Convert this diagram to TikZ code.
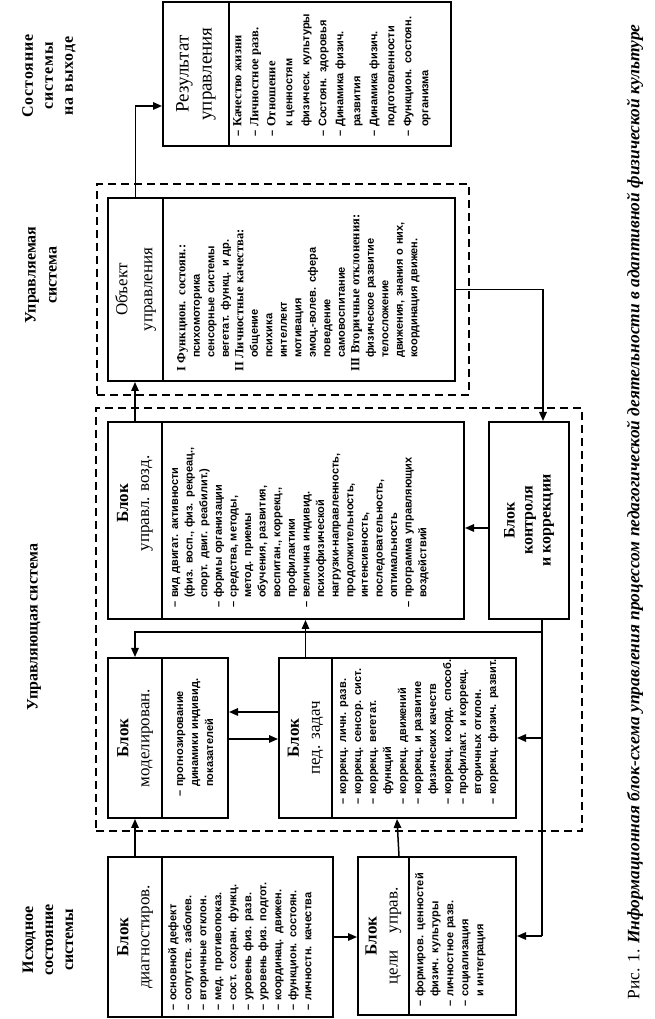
\documentclass[tikz,border=0pt]{standalone}
\usepackage{fontspec}
\usepackage{graphicx}
\setmainfont{Liberation Serif}
\newfontfamily\lstfont{Liberation Sans}
\usetikzlibrary{arrows.meta}
\newcommand{\lsd}[1]{\makebox[10pt][l]{–}#1}
\newcommand{\lsc}[1]{\hspace*{10pt}#1}
\newcommand{\lso}[1]{\hspace*{14pt}#1}
\newcommand{\lf}[1]{\lstfont\bfseries\fontsize{11}{#1}\selectfont}
\newcommand{\sr}{\rmfamily\bfseries\fontsize{12.5}{15}\selectfont}
\begin{document}
\begin{tikzpicture}[x=1pt,y=1pt,
  box/.style={draw, line width=2pt, inner sep=0pt, anchor=south west},
  conn/.style={line width=1.5pt},
  arr/.style={conn, -{Triangle[length=9pt,width=7.5pt]}},
  dbox/.style={draw, line width=2.2pt, dash pattern=on 8pt off 5pt, inner sep=0pt, anchor=south west},
  hdr/.style={rotate=90, align=center, inner sep=0pt, font=\fontsize{17}{21}\selectfont},
  lst/.style={rotate=90, anchor=north west, align=left, inner sep=0pt, text width=230pt},
  ttl/.style={rotate=90, align=center, inner sep=0pt, font=\bfseries\fontsize{16}{20}\selectfont}]

\fill[white] (0,0) rectangle (654,1019);
\useasboundingbox (0,0) rectangle (654,1019);

% dashed system frames
\node[dbox, minimum width=486pt, minimum height=423pt] (dlow) at (95,187) {};
\node[dbox, minimum width=372pt, minimum height=211pt] (dup) at (96,623) {};

% boxes
\node[box, minimum width=54pt,  minimum height=160pt] (diagH) at (107,1) {};
\node[box, minimum width=171pt, minimum height=160pt] (diagL) at (161,1) {};
\node[box, minimum width=51pt,  minimum height=158pt] (celiH) at (357,3) {};
\node[box, minimum width=107pt, minimum height=158pt] (celiL) at (408,3) {};
\node[box, minimum width=54pt,  minimum height=160pt] (modH) at (107,200) {};
\node[box, minimum width=66pt,  minimum height=160pt] (modL) at (161,200) {};
\node[box, minimum width=53pt,  minimum height=160pt] (pedH) at (278,200) {};
\node[box, minimum width=184pt, minimum height=160pt] (pedL) at (331,200) {};
\node[box, minimum width=54pt,  minimum height=197pt] (uprH) at (107,399) {};
\node[box, minimum width=302pt, minimum height=197pt] (uprL) at (161,399) {};
\node[box, minimum width=80pt,  minimum height=197pt] (kontr) at (488,399) {};
\node[box, minimum width=55pt,  minimum height=183pt] (objH) at (107,637) {};
\node[box, minimum width=292pt, minimum height=183pt] (objL) at (162,637) {};
\node[box, minimum width=66pt,  minimum height=144pt] (resH) at (162,872) {};
\node[box, minimum width=222pt, minimum height=144pt] (resL) at (228,872) {};

% column titles
\node[ttl] (t1) at (48,79) {Исходное\\состояние\\системы};
\node[ttl] (t2) at (34,392) {Управляющая система};
\node[ttl, font=\bfseries\fontsize{16}{21}\selectfont] (t3) at (41,744) {Управляемая\\система};
\node[ttl, font=\bfseries\fontsize{16}{20}\selectfont\addfontfeature{LetterSpace=6}] (t4) at (49,943) {Состояние\\системы\\на выходе};

% box headers
\node[hdr] (diagT) at (diagH.center) {\textbf{Блок}\\диагностиров.};
\node[hdr] (celiT) at (celiH.center) {\textbf{Блок}\\цели\quad управ.};
\node[hdr] (modT) at (modH.center) {\textbf{Блок}\\моделирован.};
\node[hdr] (pedT) at (pedH.center) {\textbf{Блок}\\пед. задач};
\node[hdr] (uprT) at ([yshift=17pt]uprH.center) {\textbf{Блок}\\управл. возд.};
\node[hdr, font=\bfseries\fontsize{16}{18}\selectfont] (kontrT) at (kontr.center) {Блок\\контроля\\и коррекции};
\node[hdr, font=\fontsize{17}{25}\selectfont] (objT) at (objH.center) {Объект\\управления};
\node[hdr, font=\fontsize{19}{23}\selectfont] (resT) at (resH.center) {Результат\\управления};

% lists
\node[lst, font=\lf{15}] (diagX) at (168,8) {\lsd{основной дефект}\\
\lsd{сопутств. заболев.}\\
\lsd{вторичные отклон.}\\
\lsd{мед. противопоказ.}\\
\lsd{сост. сохран. функц.}\\
\lsd{уровень физ. разв.}\\
\lsd{уровень физ. подгот.}\\
\lsd{координац. движен.}\\
\lsd{функцион. состоян.}\\
\lsd{личностн. качества}};

\node[lst, font=\lf{15}] (celiX) at (415,12) {\lsd{формиров. ценностей}\\
\lsc{физич. культуры}\\
\lsd{личностное разв.}\\
\lsd{социализация}\\
\lsc{и интеграция}};

\node[lst, font=\lf{15}] (modX) at (177,222) {\lsd{прогнозирование}\\
\lsc{динамики индивид.}\\
\lsc{показателей}};

\node[lst, font=\lf{15}] (pedX) at (340,214) {\lsd{коррекц. личн. разв.}\\
\lsd{коррекц. сенсор. сист.}\\
\lsd{коррекц. вегетат.}\\
\lsc{функций}\\
\lsd{коррекц. движений}\\
\lsd{коррекц. и развитие}\\
\lsc{физических качеств}\\
\lsd{коррекц. коорд. способ.}\\
\lsd{профилакт. и коррекц.}\\
\lsc{вторичных отклон.}\\
\lsd{коррекц. физич. развит.}};

\node[lst, font=\lf{14.6}] (uprX) at (172,411) {\lsd{вид двигат. активности}\\
\lsc{(физ. восп., физ. рекреац.,}\\
\lsc{спорт. двиг. реабилит.)}\\
\lsd{формы организации}\\
\lsd{средства, методы,}\\
\lsc{метод. приемы}\\
\lsc{обучения, развития,}\\
\lsc{воспитан., коррекц.,}\\
\lsc{профилактики}\\
\lsd{величина индивид.}\\
\lsc{психофизической}\\
\lsc{нагрузки-направленность,}\\
\lsc{продолжительность,}\\
\lsc{интенсивность,}\\
\lsc{последовательность,}\\
\lsc{оптимальность}\\
\lsd{программа управляющих}\\
\lsc{воздействий}};

\node[lst, font=\lf{14.5}] (objX) at (177,647) {{\sr I Функцион. состоян.:}\\
\lso{психомоторика}\\
\lso{сенсорные системы}\\
\lso{вегетат. функц. и др.}\\
{\sr II Личностные качества:}\\
\lso{общение}\\
\lso{психика}\\
\lso{интеллект}\\
\lso{мотивация}\\
\lso{эмоц.-волев. сфера}\\
\lso{поведение}\\
\lso{самовоспитание}\\
{\sr III Вторичные отклонения:}\\
\lso{физическое развитие}\\
\lso{телосложение}\\
\lso{движения, знания о них,}\\
\lso{координация движен.}};

\node[lst, font=\lf{17}] (resX) at (233,882) {\lsd{{\sr Качество жизни}}\\
\lsd{{\sr Личностное разв.}}\\
\lsd{{\sr Отношение}}\\
\lsc{к ценностям}\\
\lsc{физическ. культуры}\\
\lsd{Состоян. здоровья}\\
\lsd{Динамика физич.}\\
\lsc{развития}\\
\lsd{Динамика физич.}\\
\lsc{подготовленности}\\
\lsd{Функцион. состоян.}\\
\lsc{организма}};

% connectors
\draw[arr] (diagH.north) -- (diagH.north |- modH.south);
\draw[arr] (diagL.east) -- (diagL.east -| celiH.west);
\draw[arr] ([xshift=-11pt]celiH.north east) -- ([xshift=66pt]pedL.south west);
\draw[arr] ([yshift=26pt]pedH.west) -- ([yshift=26pt]modL.east);
\draw[arr] ([yshift=-1pt]modL.east) -- ([yshift=-1pt]pedH.west);
\draw[arr] (pedH.north) -- (pedH.north |- uprH.south);
\draw[arr] (uprH.north) -- (uprH.north |- objH.south);
\draw[arr] (objH.north) |- ([yshift=-32pt]resH.west);
\draw[arr] (objL.east) -| ([xshift=14pt]kontr.north);
\draw[arr] ([yshift=-7.5pt]kontr.west) -- ([yshift=-7.5pt]uprL.east);
\coordinate (t0) at ([xshift=13pt]kontr.south);
\draw[conn] (t0) -- (t0 |- celiL.east);
\draw[arr] (t0) |- ([yshift=25pt]modH.north) -- (modH.north);
\draw[arr] (t0 |- pedL.east) -- (pedL.east);
\draw[arr] (t0 |- celiL.east) -- (celiL.east);

% caption
\node[rotate=90, inner sep=0pt] (cap) at (635,507) {\resizebox{975pt}{!}{\fontsize{16}{18}\selectfont Рис. 1. \bfseries\itshape Информационная блок-схема управления процессом педагогической деятельности в адаптивной физической культуре}};
\end{tikzpicture}
\end{document}
